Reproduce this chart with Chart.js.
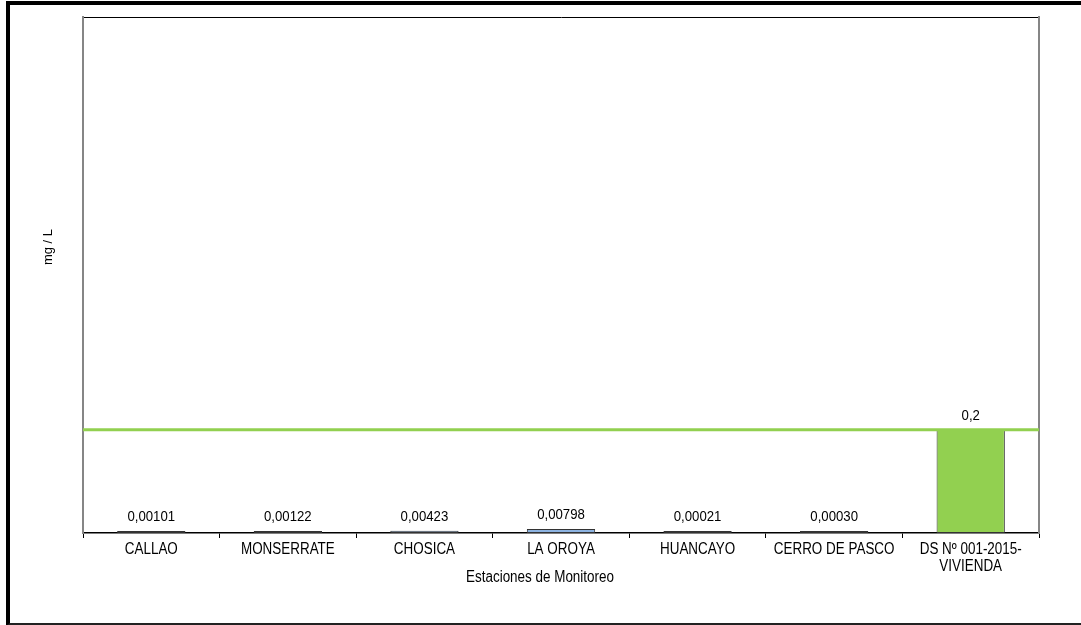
<!DOCTYPE html>
<html>
<head>
<meta charset="utf-8">
<script src="https://cdn.jsdelivr.net/npm/chart.js@4.4.1/dist/chart.umd.min.js"></script>
<style>
  html, body { margin: 0; padding: 0; background: #fff; }
  #wrap { position: relative; width: 1081px; height: 625px; overflow: hidden; background: #fff; }
  #wrap canvas { position: absolute; left: 0; top: 0; }
  /* outer frame around the whole figure (right side runs off the page) */
  #frame {
    position: absolute; left: 6px; top: 1px; width: 1120px; height: 618px;
    border-left: 4px solid #000; border-top: 4px solid #000; border-bottom: 3px solid #222;
    pointer-events: none;
  }
</style>
</head>
<body>
<div id="wrap">
  <canvas id="chart" width="1081" height="625"></canvas>
  <div id="frame"></div>
</div>
<script>
// Monitoring stations and their measured concentrations (mg/L)
const stations = ['CALLAO', 'MONSERRATE', 'CHOSICA', 'LA OROYA', 'HUANCAYO', 'CERRO DE PASCO', ['DS Nº 001-2015-', 'VIVIENDA']];
const concentrations = [0.00101, 0.00122, 0.00423, 0.00798, 0.00021, 0.00030, 0.2];
// Regulatory limit (DS Nº 001-2015-VIVIENDA)
const limitValue = 0.2;
const yRange = [0, 1];
const xAxisTitle = 'Estaciones de Monitoreo';
const yAxisTitle = 'mg / L';

const sans = "'Liberation Sans', Arial, sans-serif";
const stationFill = '#8DB4E2';
const limitFill = '#92D050';

function fmt(v) {
  const s = v >= 0.1 ? String(v) : v.toFixed(5);
  return s.replace('.', ',');
}

// condensed text: regular sans squeezed horizontally
function narrowText(ctx, text, x, y, size, squeeze) {
  ctx.save();
  ctx.font = size + 'px ' + sans;
  ctx.textAlign = 'center';
  ctx.textBaseline = 'alphabetic';
  ctx.translate(x, y);
  ctx.scale(squeeze, 1);
  ctx.fillText(text, 0, 0);
  ctx.restore();
}

const barColors = concentrations.map((v, i) => i === concentrations.length - 1 ? limitFill : stationFill);

// value label above each bar
const valueLabels = {
  id: 'valueLabels',
  afterDatasetsDraw(chart) {
    const meta = chart.getDatasetMeta(1);
    const ctx = chart.ctx;
    ctx.fillStyle = '#000';
    meta.data.forEach((el, i) => {
      narrowText(ctx, fmt(concentrations[i]), el.x, el.y - 10, 15, 0.88);
    });
  }
};

// category labels and axis titles
const axisText = {
  id: 'axisText',
  afterDraw(chart) {
    const ctx = chart.ctx;
    const area = chart.chartArea;
    const xs = chart.scales.x;
    ctx.save();
    ctx.fillStyle = '#000';
    stations.forEach((lab, i) => {
      const lines = Array.isArray(lab) ? lab : [lab];
      const x = xs.getPixelForTick(i);
      lines.forEach((ln, j) => narrowText(ctx, ln, x, area.bottom + 21 + j * 17, 16, 0.84));
    });
    narrowText(ctx, xAxisTitle, (area.left + area.right) / 2 - 21, area.bottom + 49, 16, 0.84);
    ctx.translate(area.left - 35, (area.top + area.bottom) / 2 - 28);
    ctx.rotate(-Math.PI / 2);
    ctx.font = '13px ' + sans;
    ctx.textAlign = 'center';
    ctx.textBaseline = 'middle';
    ctx.fillText(yAxisTitle, 0, 0);
    ctx.restore();
  }
};

new Chart(document.getElementById('chart'), {
  data: {
    labels: stations,
    datasets: [
      {
        type: 'line',
        label: 'Límite',
        xAxisID: 'xl',
        yAxisID: 'y',
        data: [{ x: 0, y: limitValue }, { x: stations.length, y: limitValue }],
        borderColor: limitFill,
        borderWidth: 3,
        pointRadius: 0,
        order: 0
      },
      {
        type: 'bar',
        label: 'Concentración',
        xAxisID: 'x',
        yAxisID: 'y',
        data: concentrations,
        backgroundColor: barColors,
        borderColor: '#333',
        borderWidth: 1,
        borderSkipped: false,
        minBarLength: 2,
        grouped: false,
        barPercentage: 0.5,
        categoryPercentage: 1,
        order: 1
      }
    ]
  },
  options: {
    responsive: false,
    animation: false,
    devicePixelRatio: 1,
    layout: { padding: { left: 83, right: 42, top: 17, bottom: 0 } },
    plugins: { legend: { display: false }, tooltip: { enabled: false }, title: { display: false } },
    scales: {
      x: {
        type: 'category',
        position: 'bottom',
        offset: true,
        grid: { display: true, drawOnChartArea: false, drawTicks: true, tickLength: 5, color: '#000', offset: true },
        border: { display: true, color: '#000', width: 1.5 },
        ticks: { display: false, autoSkip: false },
        afterFit(s) { s.height = 92; }
      },
      xl: { type: 'linear', min: 0, max: stations.length, display: false },
      xt: {
        type: 'linear', position: 'top', min: 0, max: 1,
        grid: { display: false }, ticks: { display: false },
        border: { display: true, color: '#000', width: 1 },
        afterFit(s) { s.height = 0; }
      },
      y: {
        type: 'linear', position: 'left', min: yRange[0], max: yRange[1],
        grid: { display: false }, ticks: { display: false },
        border: { display: true, color: '#868686', width: 2 },
        afterFit(s) { s.width = 0; }
      },
      yr: {
        type: 'linear', position: 'right', min: yRange[0], max: yRange[1],
        grid: { display: false }, ticks: { display: false },
        border: { display: true, color: '#868686', width: 2 },
        afterFit(s) { s.width = 0; }
      }
    }
  },
  plugins: [valueLabels, axisText]
});
</script>
</body>
</html>
